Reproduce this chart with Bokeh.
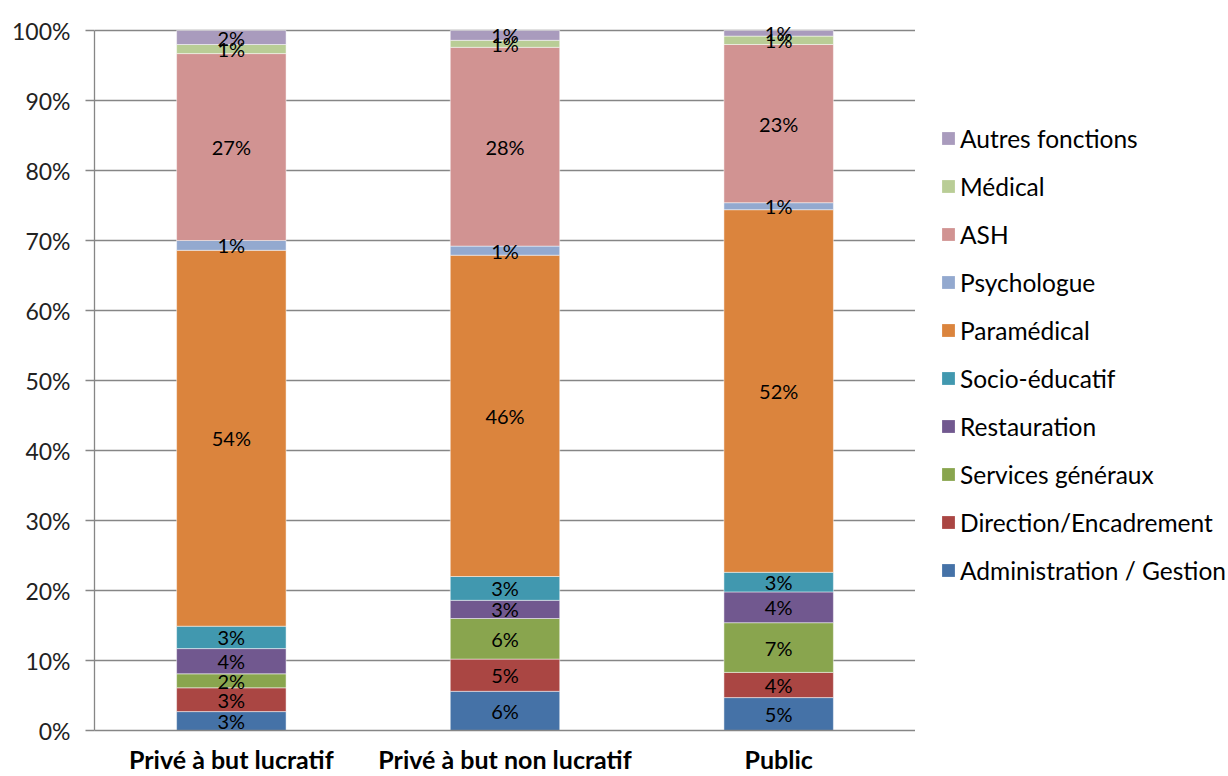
import numpy as np
from bokeh.plotting import figure
from bokeh.layouts import row
from bokeh.models import (ColumnDataSource, Legend, LegendItem, FixedTicker,
                          PrintfTickFormatter, Range1d, FactorRange)
from bokeh.core.properties import value
from bokeh.embed import file_html
from bokeh.resources import INLINE

categories = ["Privé à but lucratif", "Privé à but non lucratif", "Public"]
series = ["Administration / Gestion", "Direction/Encadrement", "Services généraux",
          "Restauration", "Socio-éducatif", "Paramédical", "Psychologue", "ASH",
          "Médical", "Autres fonctions"]

admin = [2.7, 5.6, 4.7]
direction = [3.4, 4.6, 3.6]
services = [2.0, 5.8, 7.1]
restauration = [3.6, 2.6, 4.4]
socio = [3.2, 3.4, 2.8]
paramedical = [53.7, 45.9, 51.8]
psychologue = [1.4, 1.3, 1.0]
ash = [26.7, 28.4, 22.6]
medical = [1.3, 1.0, 1.2]
autres = [2.0, 1.4, 0.8]

y_ticks = [0, 10, 20, 30, 40, 50, 60, 70, 80, 90, 100]

colors = ["#4572A7", "#AA4643", "#89A54E", "#71588F", "#4198AF",
          "#DB843D", "#93A9CF", "#D19392", "#B9CD96", "#A99BBD"]

values = [admin, direction, services, restauration, socio, paramedical,
          psychologue, ash, medical, autres]
keys = ["s%d" % i for i in range(len(series))]

data = {"cat": categories}
for k, v in zip(keys, values):
    data[k] = v
src = ColumnDataSource(data)

FONT = "Lato"

p = figure(x_range=FactorRange(*categories), y_range=Range1d(0, 102),
           width=915, height=776, output_backend="svg", toolbar_location=None,
           min_border_left=94, min_border_top=16, min_border_right=0,
           min_border_bottom=45, background_fill_color="white")
p.outline_line_color = None

renderers = p.vbar_stack(keys, x="cat", width=0.4, source=src, color=colors,
                         line_color="white", line_width=0.8, line_alpha=0.6)

# data labels
lx, ly, lt = [], [], []
bottoms = np.zeros(len(categories))
for v in values:
    arr = np.array(v, dtype=float)
    mids = bottoms + arr / 2
    for c, m, val in zip(categories, mids, arr):
        lx.append(c)
        ly.append(m)
        lt.append("%d%%" % int(np.floor(val + 0.5)))
    bottoms = bottoms + arr
lsrc = ColumnDataSource(dict(x=lx, y=ly, t=lt))
p.text(x="x", y="y", text="t", source=lsrc, text_align="center",
       text_baseline="middle", text_font=value(FONT), text_font_size="20px",
       text_color="black")

# axes
p.yaxis.ticker = FixedTicker(ticks=y_ticks)
p.yaxis.formatter = PrintfTickFormatter(format="%d%%")
p.yaxis.bounds = (0, 100)
p.yaxis.axis_line_color = "#868686"
p.yaxis.axis_line_width = 1.3
p.yaxis.major_tick_line_color = "#868686"
p.yaxis.major_tick_line_width = 1.3
p.yaxis.major_tick_out = 9
p.yaxis.major_tick_in = 0
p.yaxis.minor_tick_line_color = None
p.yaxis.major_label_standoff = 15
p.yaxis.major_label_text_font = FONT
p.yaxis.major_label_text_font_size = "23px"
p.yaxis.major_label_text_color = "#222222"

p.xaxis.axis_line_color = "#868686"
p.xaxis.axis_line_width = 1.3
p.xaxis.major_tick_line_color = None
p.xaxis.major_tick_out = 0
p.xaxis.major_tick_in = 0
p.xaxis.major_label_standoff = 13
p.xaxis.major_label_text_font = FONT
p.xaxis.major_label_text_font_style = "bold"
p.xaxis.major_label_text_font_size = "25px"
p.xaxis.major_label_text_color = "black"

p.xgrid.visible = False
p.ygrid.ticker = FixedTicker(ticks=y_ticks)
p.ygrid.grid_line_color = "#868686"
p.ygrid.grid_line_width = 1.3

# legend panel: key glyphs only (hidden copies of the series)
pl = figure(x_range=FactorRange(*categories), y_range=Range1d(0, 102),
            width=313, height=776, output_backend="svg", toolbar_location=None,
            x_axis_type=None, y_axis_type=None, min_border=0,
            background_fill_color="white")
pl.outline_line_color = None
pl.xgrid.visible = False
pl.ygrid.visible = False
lrenderers = pl.vbar_stack(keys, x="cat", width=0.4, source=src, color=colors,
                           line_color=None)
for r in lrenderers:
    r.visible = False

items = [LegendItem(label=s, renderers=[r]) for s, r in zip(series, lrenderers)]
items = items[::-1]
legend = Legend(items=items, location=(25, 144), orientation="vertical",
                glyph_width=16, glyph_height=16, label_standoff=4,
                label_height=32, spacing=16, padding=0, margin=0,
                border_line_color=None, background_fill_alpha=0,
                inactive_fill_alpha=0,
                label_text_font=FONT, label_text_font_size="24.5px",
                label_text_color="black")
pl.add_layout(legend, "center")

layout = row(p, pl)
open("out.html", "w").write(file_html(layout, INLINE))
